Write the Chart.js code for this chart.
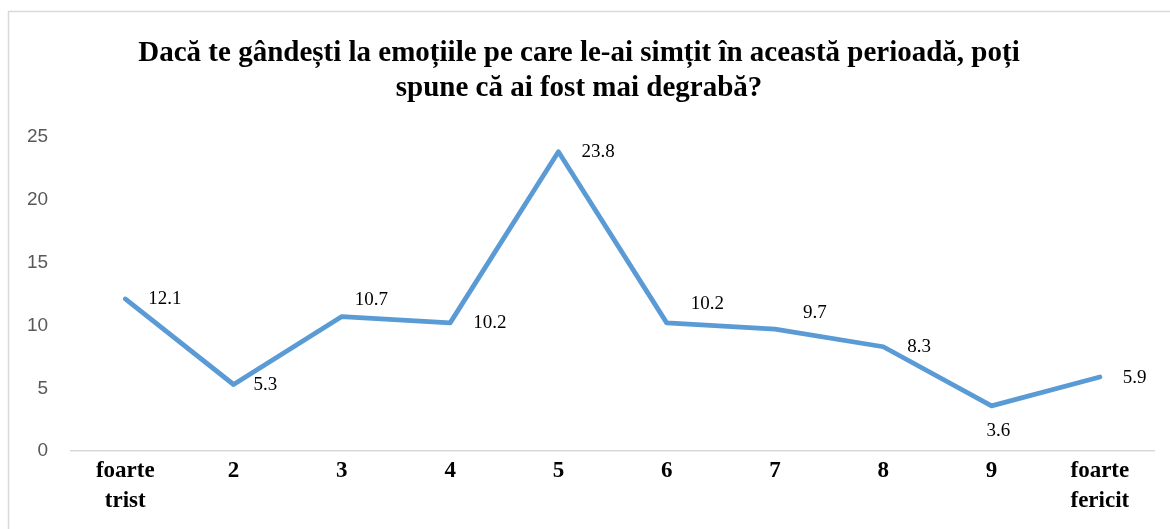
<!DOCTYPE html>
<html>
<head>
<meta charset="utf-8">
<script src="https://cdn.jsdelivr.net/npm/chart.js@4"></script>
<style>
  html, body { margin: 0; padding: 0; background: #fff; }
  #wrap { width: 1170px; height: 529px; position: relative; }
</style>
</head>
<body>
<div id="wrap"><canvas id="grafic"></canvas></div>
<script>
// categorii si valori (%)
var categorii = [["foarte", "trist"], "2", "3", "4", "5", "6", "7", "8", "9", ["foarte", "fericit"]];
var valori = [12.1, 5.3, 10.7, 10.2, 23.8, 10.2, 9.7, 8.3, 3.6, 5.9];
var etichete = ["12.1", "5.3", "10.7", "10.2", "23.8", "10.2", "9.7", "8.3", "3.6", "5.9"];
var titlu = ["Dacă te gândești la emoțiile pe care le-ai simțit în această perioadă, poți", "spune că ai fost mai degrabă?"];

// chenarul din jurul graficului
var chenar = {
  id: "chenar",
  beforeDraw: function (chart) {
    var ctx = chart.ctx;
    ctx.save();
    ctx.fillStyle = "#fff";
    ctx.fillRect(0, 0, chart.width, chart.height);
    ctx.strokeStyle = "#d9d9d9";
    ctx.lineWidth = 1.5;
    ctx.strokeRect(8.5, 11.5, 1170, 540);
    ctx.restore();
  }
};

// etichetele cu valori langa puncte
var valoriPuncte = {
  id: "valoriPuncte",
  afterDatasetsDraw: function (chart, args, opts) {
    var ctx = chart.ctx;
    var meta = chart.getDatasetMeta(0);
    ctx.save();
    ctx.font = "19px 'Liberation Serif'";
    ctx.fillStyle = "#000";
    ctx.textAlign = "left";
    ctx.textBaseline = "middle";
    meta.data.forEach(function (pt, i) {
      var o = opts.deplasari[i];
      ctx.fillText(etichete[i], pt.x + o[0], pt.y + o[1]);
    });
    ctx.restore();
  }
};

var ctx = document.getElementById("grafic").getContext("2d");
var grafic = new Chart(ctx, {
  type: "line",
  data: {
    labels: categorii,
    datasets: [{
      data: valori,
      borderColor: "#5b9bd5",
      borderWidth: 4.8,
      borderCapStyle: "round",
      borderJoinStyle: "round",
      pointRadius: 0,
      tension: 0,
      fill: false
    }]
  },
  options: {
    responsive: true,
    maintainAspectRatio: false,
    animation: false,
    layout: { padding: { left: 4, right: 16, top: 36, bottom: 8 } },
    plugins: {
      legend: { display: false },
      tooltip: { enabled: false },
      title: {
        display: true,
        text: titlu,
        color: "#000",
        font: { family: "'Liberation Serif'", size: 29, weight: "bold", lineHeight: 1.2 },
        padding: { top: 0, bottom: 31 }
      },
      valoriPuncte: {
        deplasari: [[23, 0], [20, 1], [13, -17], [23, 0], [23, 0], [24, -19], [28, -16], [24, 0], [-5, 25], [23, 1]]
      }
    },
    scales: {
      x: {
        offset: true,
        grid: { display: false, drawTicks: false },
        border: { display: true, color: "#d9d9d9", width: 1.5 },
        ticks: {
          color: "#000",
          padding: 5,
          maxRotation: 0,
          autoSkip: false,
          font: { family: "'Liberation Serif'", size: 23, weight: "bold", lineHeight: 1.3 }
        }
      },
      y: {
        min: 0,
        max: 25,
        grid: { display: false, drawTicks: false },
        border: { display: false },
        ticks: {
          stepSize: 5,
          color: "#595959",
          padding: 23,
          font: { family: "'Liberation Sans'", size: 19 }
        }
      }
    }
  },
  plugins: [chenar, valoriPuncte]
});
</script>
</body>
</html>
